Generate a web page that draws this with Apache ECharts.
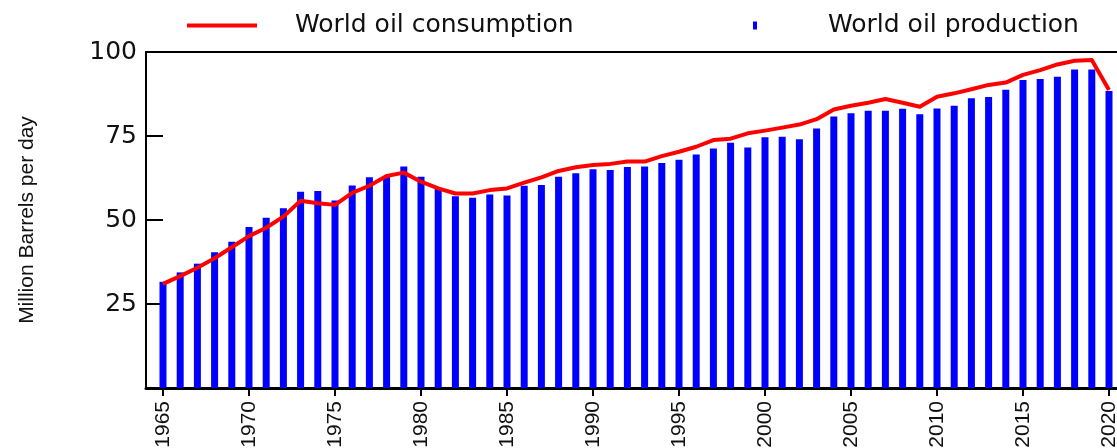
<!DOCTYPE html>
<html>
<head>
<meta charset="utf-8">
<script src="https://cdn.jsdelivr.net/npm/echarts@6/dist/echarts.min.js"></script>
<style>
html,body{margin:0;padding:0;background:#fff;}
#chart{width:1117px;height:448px;}
</style>
</head>
<body>
<div id="chart"></div>
<script>
var years = [1965,1966,1967,1968,1969,1970,1971,1972,1973,1974,
             1975,1976,1977,1978,1979,1980,1981,1982,1983,1984,
             1985,1986,1987,1988,1989,1990,1991,1992,1993,1994,
             1995,1996,1997,1998,1999,2000,2001,2002,2003,2004,
             2005,2006,2007,2008,2009,2010,2011,2012,2013,2014,
             2015,2016,2017,2018,2019,2020];
var production = [31.6,34.4,37.0,40.4,43.5,47.9,50.7,53.5,58.4,58.6,
                  55.8,60.3,62.7,62.9,65.9,62.9,59.2,57.1,56.6,57.6,
                  57.3,60.2,60.4,62.9,63.9,65.1,64.9,65.8,65.9,67.0,
                  67.9,69.5,71.3,73.0,71.6,74.6,74.8,74.0,77.2,80.8,
                  81.8,82.5,82.5,83.1,81.5,83.2,84.0,86.2,86.6,88.8,
                  91.7,92.0,92.6,94.8,94.8,88.4];
var consumption = [31.0,33.3,35.8,38.6,41.9,45.2,47.7,51.0,55.7,55.0,
                   54.5,58.1,60.2,63.1,64.1,61.4,59.4,57.9,57.9,58.9,
                   59.4,61.1,62.7,64.6,65.7,66.4,66.7,67.4,67.4,69.0,
                   70.3,71.8,73.8,74.2,75.8,76.6,77.5,78.4,80.0,82.9,
                   84.0,84.9,86.0,84.9,83.7,86.7,87.7,88.9,90.2,90.9,
                   93.2,94.6,96.3,97.4,97.6,88.7];
var xTicks = [1965,1970,1975,1980,1985,1990,1995,2000,2005,2010,2015,2020];
var yTicks = [25,50,75,100];
var seriesNames = ['World oil consumption','World oil production'];
var yTitle = 'Million Barrels per day';

var prodData = years.map(function(y,i){return [y, production[i]];});
var consData = years.map(function(y,i){return [y, consumption[i]];});

var chart = echarts.init(document.getElementById('chart'), null, {renderer:'canvas'});
var legendText = {fontFamily:'DejaVu Sans', fontSize:25, color:'#111', padding:[0,0,0,33]};
var xMin = 1964.012, xMax = 2020.465;
chart.setOption({
  animation:false,
  backgroundColor:'#fff',
  legend:[
    {left:182, top:8, itemWidth:70, itemHeight:8, itemGap:0,
     data:[{name:seriesNames[0], icon:'path://M0,0L70,0L70,4L0,4Z'}], textStyle:legendText, selectedMode:false},
    {left:748, top:8, itemWidth:70, itemHeight:8, itemGap:0,
     data:[{name:seriesNames[1], icon:'path://M0,0L1,0L1,2L0,2Z'}], textStyle:legendText, selectedMode:false}
  ],
  grid:{left:146, right:0, top:52, bottom:60, containLabel:false, outerBoundsMode:'none'},
  xAxis:[{
    type:'value', min:xMin, max:xMax,
    axisLine:{show:true, onZero:true, lineStyle:{color:'#000', width:3}},
    axisTick:{show:true, customValues:xTicks, length:8, lineStyle:{color:'#000', width:2}},
    axisLabel:{show:true, customValues:xTicks, rotate:90, margin:13,
      fontFamily:'Liberation Sans', fontSize:21, color:'#111',
      formatter:function(v){return String(Math.round(v));}},
    splitLine:{show:false}
  },{
    type:'value', min:xMin, max:xMax, position:'top',
    axisLine:{show:true, onZero:false, lineStyle:{color:'#000', width:2}},
    axisTick:{show:false}, axisLabel:{show:false}, splitLine:{show:false}
  }],
  yAxis:{
    type:'value', min:0, max:100, interval:25,
    name:yTitle, nameLocation:'middle', nameRotate:90, nameGap:108,
    nameTextStyle:{fontFamily:'Liberation Sans', fontSize:21, color:'#111'},
    axisLine:{show:true, lineStyle:{color:'#000', width:2}},
    axisTick:{show:true, inside:true, length:17, lineStyle:{color:'#000', width:2}},
    axisLabel:{show:true, margin:9, fontFamily:'DejaVu Sans', fontSize:25, color:'#111',
      formatter:function(v){return yTicks.indexOf(v) >= 0 ? String(v) : '';}},
    splitLine:{show:false}
  },
  series:[
    {name:seriesNames[1], type:'bar', xAxisIndex:0, data:prodData, barWidth:7,
     itemStyle:{color:'#0000ff'}, z:2},
    {name:seriesNames[0], type:'line', xAxisIndex:0, data:consData, symbol:'none',
     lineStyle:{color:'#ff0000', width:4, join:'round'}, itemStyle:{color:'#ff0000'}, z:3}
  ]
});
</script>
</body>
</html>
